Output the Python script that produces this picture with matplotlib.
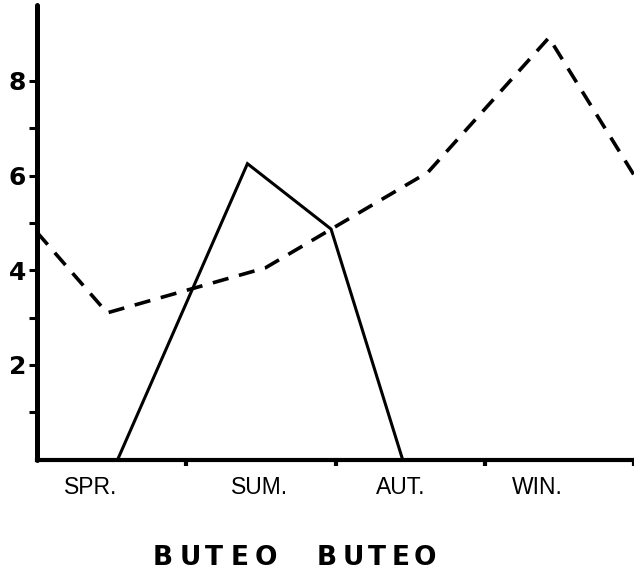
import matplotlib
matplotlib.use("Agg")
import matplotlib.pyplot as plt
from matplotlib.ticker import FixedLocator

# Data (x in season-interval units, 0 = start of axis)
solid_x = [0.54, 1.41, 1.97, 2.45]
solid_y = [0.0, 6.25, 4.87, 0.0]

dashed_x = [0.0, 0.47, 1.53, 2.62, 3.43, 4.0]
dashed_y = [4.80, 3.10, 4.05, 6.07, 8.91, 6.01]

season_labels = ["SPR.", "SUM.", "AUT.", "WIN."]
season_label_pos = [0.36, 1.49, 2.44, 3.35]
season_ticks = [1, 2, 3, 4]

y_major = [2, 4, 6, 8]
y_minor = [1, 3, 5, 7]

title_text = "BUTEO BUTEO"

plt.rcParams['font.family'] = ['Liberation Sans', 'DejaVu Sans']

W, H = 634, 578
fig = plt.figure(figsize=(W / 100, H / 100), dpi=100)
ax = fig.add_axes([37 / W, (H - 459.7) / H, 597 / W, 454.7 / H])

ax.plot(solid_x, solid_y, color="black", lw=2.2, solid_joinstyle="miter")
ax.plot(dashed_x, dashed_y, color="black", lw=2.6, dashes=(4.5, 3.0))

ax.set_xlim(0, 4.0)
ax.set_ylim(0, 9.6)

for s in ("top", "right"):
    ax.spines[s].set_visible(False)
ax.spines["left"].set_linewidth(3.6)
ax.spines["bottom"].set_linewidth(3.0)
ax.spines["left"].set_capstyle("round")

# y ticks
ax.yaxis.set_major_locator(FixedLocator(y_major))
ax.yaxis.set_minor_locator(FixedLocator(y_minor))
ax.set_yticklabels([str(v) for v in y_major], fontsize=18, fontweight="bold",
                   family="DejaVu Sans")
ax.tick_params(axis="y", which="both", direction="out", length=6, width=2.2, pad=2)

# x ticks: major marks at interval boundaries, labels at minor positions
ax.xaxis.set_major_locator(FixedLocator(season_ticks))
ax.xaxis.set_minor_locator(FixedLocator(season_label_pos))
ax.set_xticklabels([], minor=False)
ax.set_xticklabels(season_labels, minor=True, fontsize=16.5)
ax.tick_params(axis="x", which="major", direction="out", length=4, width=3)
ax.tick_params(axis="x", which="minor", length=0, pad=12)

# Title with wide letter spacing
letter_x = [163, 190, 214, 240, 266, 327, 353, 377, 401, 425]
letters = [c for c in title_text if c != " "]
for c, px in zip(letters, letter_x):
    fig.text(px / W, 1 - 558 / H, c, ha="center", va="center",
             fontsize=19, fontweight="bold", family="DejaVu Sans")

fig.savefig("out.png", dpi=100)
